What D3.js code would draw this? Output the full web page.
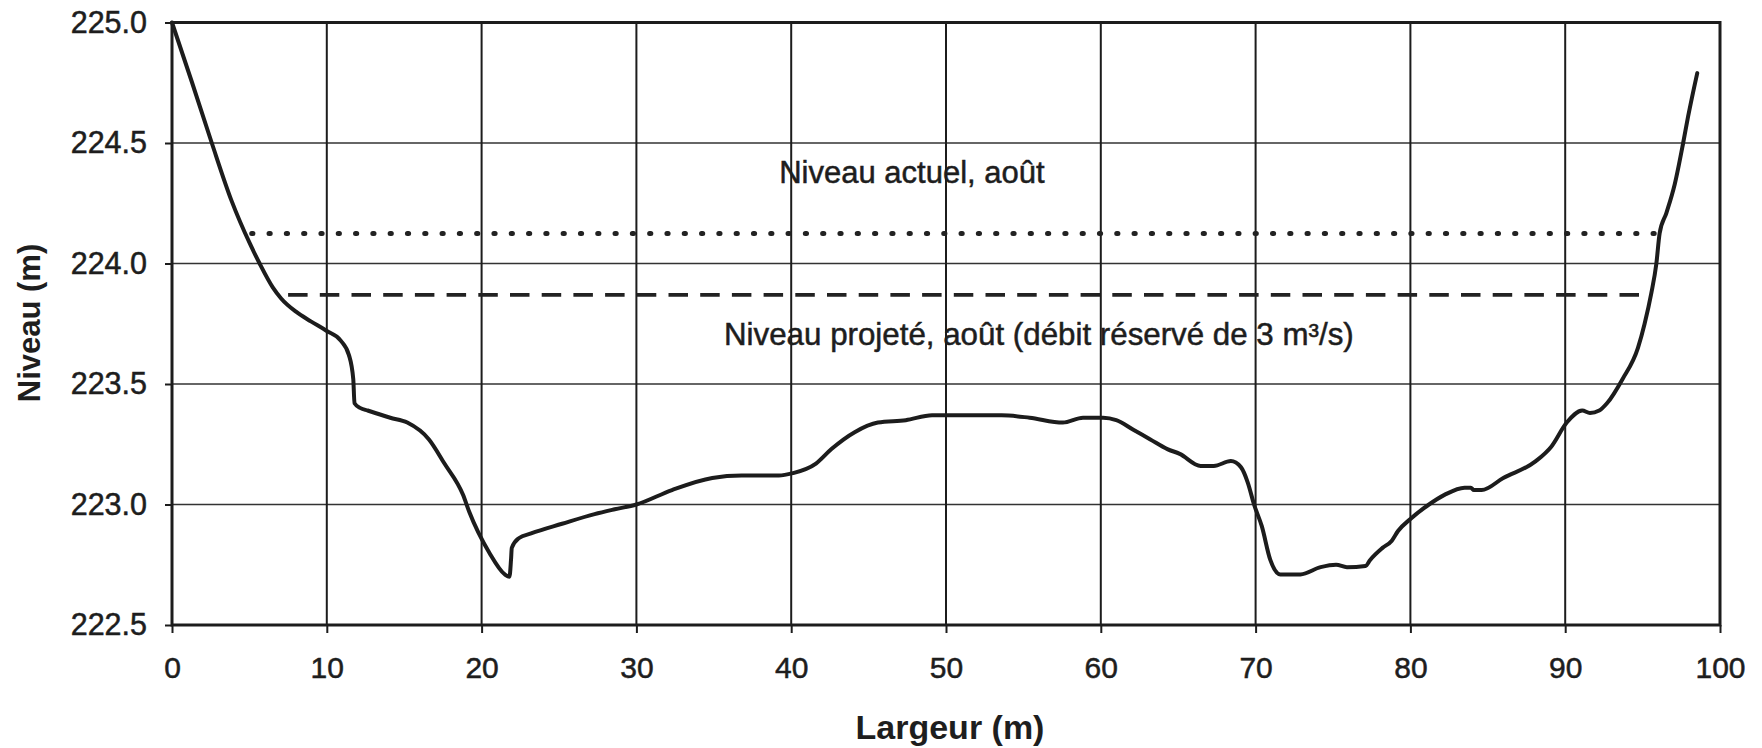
<!DOCTYPE html>
<html>
<head>
<meta charset="utf-8">
<script src="https://cdn.jsdelivr.net/npm/d3@7"></script>
<style>
  html, body { margin: 0; padding: 0; background: #fff; }
  svg { display: block; }
  text { font-family: "Liberation Sans", Arial, Helvetica, sans-serif; fill: #1e1e1e; }
</style>
</head>
<body>
<svg id="chart" width="1762" height="748"></svg>
<script>
// ---- Data ----
const profileX = [0, 1.3, 2.57, 3.85, 5.05, 5.66, 6.52, 7.05, 8.01, 8.97, 10.0, 10.9, 11.43, 11.71, 11.79, 12.18, 12.64, 14.1, 15.2, 16.6, 17.6, 18.8, 19.2, 20.5, 21.5, 21.8, 21.9, 21.95, 22.4, 23.2, 25.2, 27.3, 28.6, 30.0, 32.3, 34.9, 36.8, 39.2, 40.1, 41.6, 42.6, 44.1, 45.6, 47.4, 49.1, 53.6, 55.4, 57.55, 58.85, 60.15, 61.0, 62.1, 63.2, 64.3, 65.1, 66.45, 67.3, 68.4, 69.05, 69.5, 69.9, 70.4, 70.95, 71.6, 72.9, 74.2, 75.2, 75.9, 77.1, 77.4, 78.2, 78.8, 79.2, 80.0, 81.2, 82.2, 83.5, 83.9, 84.1, 84.6, 86.0, 88.1, 89.1, 90.1, 91.1, 91.6, 92.2, 92.7, 93.7, 94.7, 95.13, 95.56, 95.89, 96.1, 96.54, 97.08, 97.62, 97.94, 98.53];
const profileY = [225.0, 224.75, 224.5, 224.26, 224.08, 224.0, 223.9, 223.855, 223.8, 223.76, 223.72, 223.68, 223.62, 223.52, 223.42, 223.4, 223.39, 223.36, 223.34, 223.27, 223.17, 223.04, 222.97, 222.80, 222.71, 222.70, 222.77, 222.82, 222.86, 222.88, 222.92, 222.96, 222.98, 223.0, 223.06, 223.11, 223.12, 223.12, 223.13, 223.17, 223.23, 223.30, 223.34, 223.35, 223.37, 223.37, 223.36, 223.34, 223.36, 223.36, 223.35, 223.31, 223.27, 223.23, 223.21, 223.16, 223.16, 223.18, 223.155, 223.09, 223.0, 222.91, 222.77, 222.71, 222.71, 222.74, 222.75, 222.74, 222.745, 222.77, 222.82, 222.85, 222.89, 222.94, 223.0, 223.04, 223.07, 223.07, 223.06, 223.06, 223.11, 223.18, 223.24, 223.34, 223.39, 223.38, 223.39, 223.42, 223.52, 223.65, 223.75, 223.876, 224.0, 224.125, 224.21, 224.33, 224.5, 224.61, 224.79];

const actualLevelX = [5.15, 96.05];
const actualLevelY = [224.125, 224.125];
const projectedLevelX = [7.5, 95.1];
const projectedLevelY = [223.87, 223.87];

const xTicks = [0, 10, 20, 30, 40, 50, 60, 70, 80, 90, 100];
const yTicks = [222.5, 223.0, 223.5, 224.0, 224.5, 225.0];

const xTitle = "Largeur (m)";
const yTitle = "Niveau (m)";
const actualLabel = "Niveau actuel, août";
const projectedLabel = "Niveau projeté, août (débit réservé de 3 m³/s)";
const actualLabelPos = [47.8, 224.335];
const projectedLabelPos = [56.0, 223.661];

// ---- Chart ----
const svg = d3.select("#chart");
const mLeft = 172, mRight = 1720, mTop = 22.5, mBottom = 625;
const ink = "#1c1c1c";

const x = d3.scaleLinear().domain([0, 100]).range([mLeft, mRight]);
const y = d3.scaleLinear().domain([222.5, 225]).range([mBottom, mTop]);

svg.append("rect").attr("width", 1762).attr("height", 748).attr("fill", "#fff");

// gridlines
svg.append("g").selectAll("line").data(yTicks.slice(1, -1)).join("line")
  .attr("x1", mLeft).attr("x2", mRight)
  .attr("y1", d => y(d)).attr("y2", d => y(d))
  .attr("stroke", "#333").attr("stroke-width", 1.6);
svg.append("g").selectAll("line").data(xTicks.slice(1, -1)).join("line")
  .attr("y1", mTop).attr("y2", mBottom)
  .attr("x1", d => x(d)).attr("x2", d => x(d))
  .attr("stroke", ink).attr("stroke-width", 2);

// axes
const yAxis = d3.axisLeft(y).tickValues(yTicks).tickFormat(d3.format(".1f"))
  .tickSize(7).tickPadding(18);
const gy = svg.append("g").attr("transform", `translate(${mLeft},0)`).call(yAxis);
const xAxis = d3.axisBottom(x).tickValues(xTicks).tickFormat(d3.format("d"))
  .tickSize(8).tickPadding(24);
const gx = svg.append("g").attr("transform", `translate(0,${mBottom})`).call(xAxis);
[gx, gy].forEach(g => {
  g.select(".domain").remove();
  g.selectAll(".tick line").attr("stroke", ink).attr("stroke-width", 2);
  g.selectAll(".tick text").attr("font-size", 30).attr("fill", ink)
    .attr("stroke", ink).attr("stroke-width", 0.5)
    .style("font-family", '"Liberation Sans", Arial, sans-serif');
});
gy.selectAll(".tick text").attr("font-size", 30.5);

// frame
svg.append("rect").attr("x", mLeft).attr("y", mTop)
  .attr("width", mRight - mLeft).attr("height", mBottom - mTop)
  .attr("fill", "none").attr("stroke", ink).attr("stroke-width", 3);

// level lines
const lineGen = d3.line().x(d => x(d[0])).y(d => y(d[1]));
svg.append("path").datum(d3.zip(actualLevelX, actualLevelY)).attr("d", lineGen)
  .attr("fill", "none").attr("stroke", "#222").attr("stroke-width", 5)
  .attr("stroke-linecap", "round").attr("stroke-dasharray", "1.2 16.1");
svg.append("path").datum(d3.zip(projectedLevelX, projectedLevelY)).attr("d", lineGen)
  .attr("fill", "none").attr("stroke", "#222").attr("stroke-width", 3.8)
  .attr("stroke-dasharray", "19.5 12.2");

// terrain profile
svg.append("path").datum(d3.zip(profileX, profileY))
  .attr("d", d3.line().x(d => x(d[0])).y(d => y(d[1])).curve(d3.curveMonotoneX))
  .attr("fill", "none").attr("stroke", ink).attr("stroke-width", 4)
  .attr("stroke-linejoin", "round").attr("stroke-linecap", "round");

// annotations
svg.append("text").attr("x", x(actualLabelPos[0])).attr("y", y(actualLabelPos[1]))
  .attr("text-anchor", "middle").attr("font-size", 31)
  .attr("stroke", ink).attr("stroke-width", 0.5).text(actualLabel);
svg.append("text").attr("x", x(projectedLabelPos[0])).attr("y", y(projectedLabelPos[1]))
  .attr("text-anchor", "middle").attr("font-size", 31.3)
  .attr("stroke", ink).attr("stroke-width", 0.5).text(projectedLabel);

// axis titles
svg.append("text").attr("x", 950).attr("y", 739).attr("text-anchor", "middle")
  .attr("font-size", 34).attr("font-weight", "bold").text(xTitle);
svg.append("text").attr("transform", "translate(39.5,323) rotate(-90)")
  .attr("text-anchor", "middle").attr("font-size", 31).attr("font-weight", "bold").text(yTitle);
</script>
</body>
</html>
